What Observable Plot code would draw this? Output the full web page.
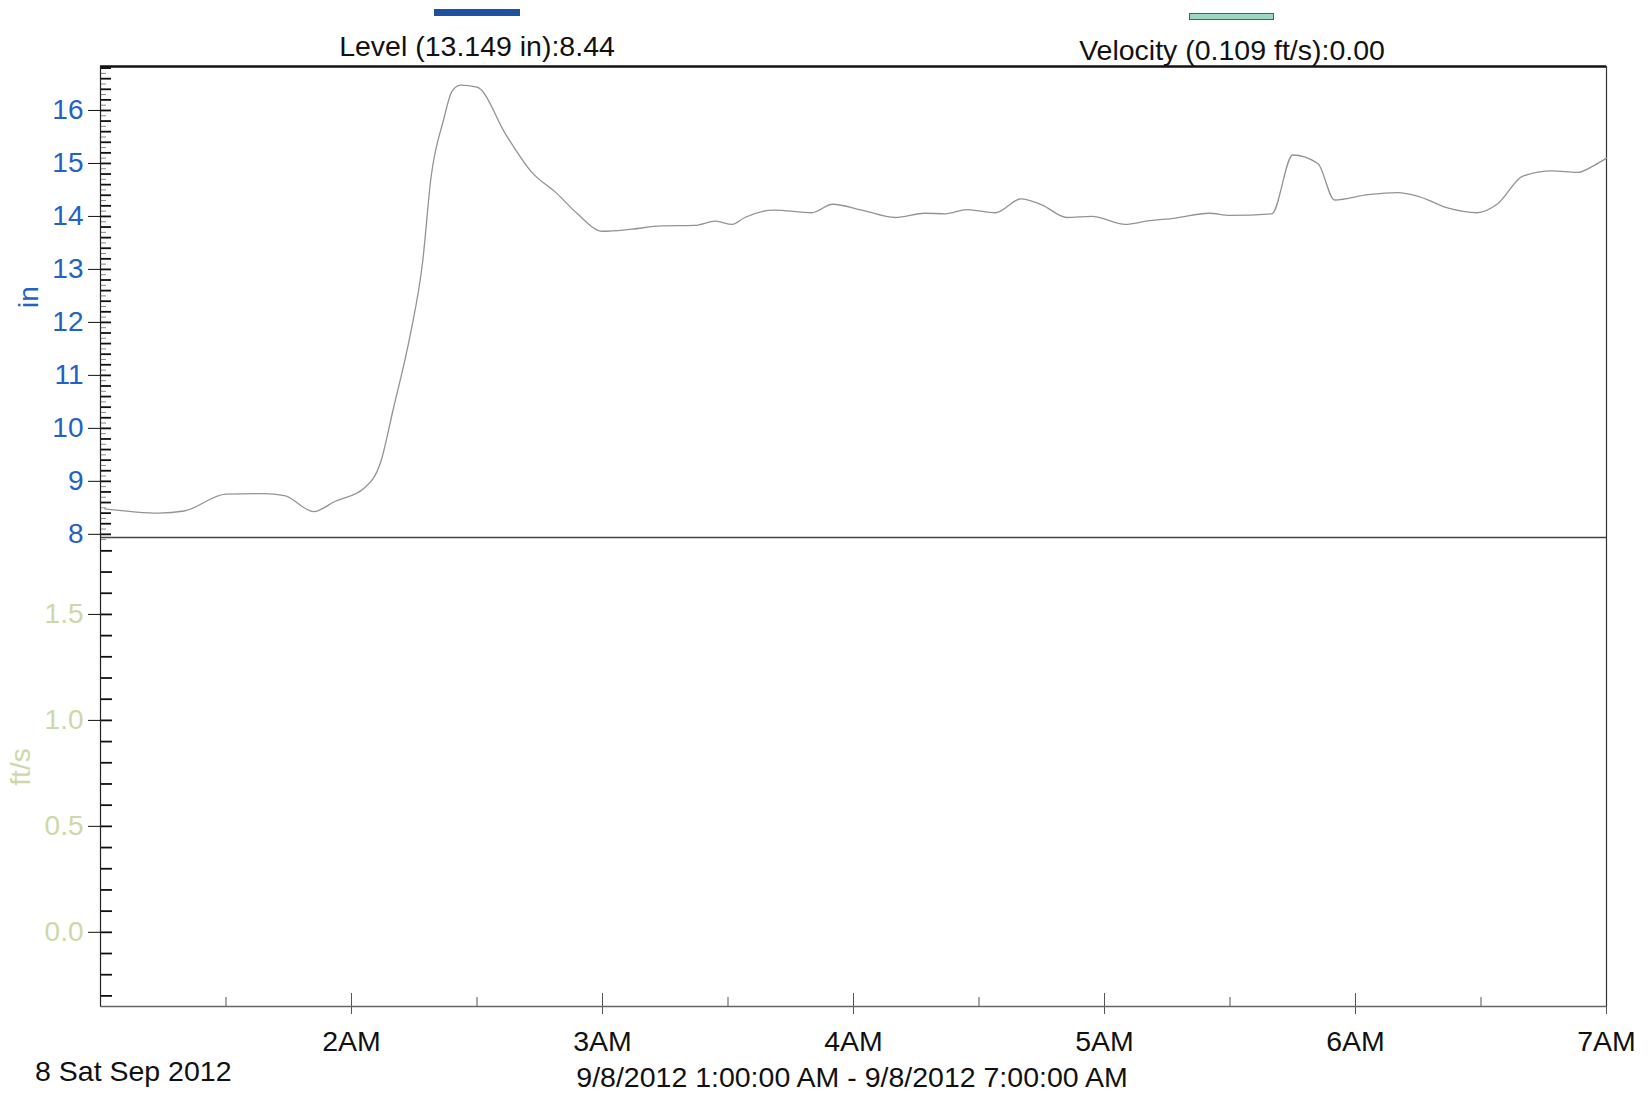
<!DOCTYPE html>
<html><head><meta charset="utf-8">
<script src="https://cdn.jsdelivr.net/npm/d3@7"></script>
<script src="https://cdn.jsdelivr.net/npm/@observablehq/plot@0.6"></script>
<style>
body{margin:0;background:#fff;width:1648px;height:1093px;overflow:hidden;position:relative;font-family:"Liberation Sans",Arial,sans-serif;}
.abs{position:absolute;white-space:nowrap;line-height:1;}
</style></head><body>
<div id="top" class="abs" style="left:0;top:0"></div>
<div id="bottom" class="abs" style="left:0;top:537px"></div>
<div id="overlay"></div>
<script>
// ---- data ----
const levelTimes = ["01:01","01:14","01:20","01:30","01:39","01:44","01:51","01:56","02:03","02:07","02:10","02:14","02:17","02:19","02:22","02:24","02:26","02:30","02:37","02:43","02:49","02:54","03:00","03:07","03:14","03:22","03:27","03:31","03:34","03:41","03:50","03:55","04:02","04:10","04:17","04:22","04:27","04:34","04:40","04:45","04:51","04:57","05:05","05:10","05:17","05:25","05:30","05:40","05:45","05:51","05:55","06:03","06:10","06:15","06:22","06:29","06:34","06:40","06:47","06:53","06:57","07:00"];
const levelValues = [8.48,8.40,8.44,8.76,8.77,8.73,8.43,8.62,8.87,9.37,10.37,11.75,13.14,14.73,15.82,16.36,16.48,16.44,15.53,14.84,14.44,14.05,13.72,13.76,13.82,13.83,13.91,13.85,13.98,14.12,14.07,14.23,14.12,13.98,14.06,14.05,14.13,14.07,14.33,14.22,13.98,14.00,13.85,13.91,13.97,14.06,14.02,14.05,15.16,15.00,14.31,14.41,14.45,14.38,14.16,14.07,14.24,14.76,14.86,14.83,14.96,15.10];
const levelMajorTicks = [8,9,10,11,12,13,14,15,16];
const velocityMajorTicks = [0.0,0.5,1.0,1.5];
const hourTickLabels = ["2AM","3AM","4AM","5AM","6AM","7AM"];
const hourTickHours = [2,3,4,5,6,7];
const legendLabels = ["Level (13.149 in):8.44","Velocity (0.109 ft/s):0.00"];
const levelAxisLabel = "in";
const velocityAxisLabel = "ft/s";
const dateLabel = "8 Sat Sep 2012";
const rangeLabel = "9/8/2012 1:00:00 AM - 9/8/2012 7:00:00 AM";

// ---- derived ----
const levelData = levelTimes.map((t,i)=>({time:new Date(`2012-09-08T${t}:00`), value:levelValues[i]}));
const xDomain = [new Date(2012,8,8,1), new Date(2012,8,8,7)];
const levelDomain = [7.94, 16.83];
const velDomain = [-0.35, 1.863];
const W = 1648, mL = 100, mR = 42;
const plotW = W - mL - mR;
const levelMinor = d3.range(80, 169, 2).map(v=>v/10);
const levelFine = d3.range(79, 169, 2).map(v=>v/10);
const velMinor = d3.range(-3, 19, 1).map(v=>v/10);
const hourTicks = hourTickHours.map(h=>new Date(2012,8,8,h));
const halfHours = hourTickHours.map(h=>new Date(2012,8,8,h-1,30));
const font = "'Liberation Sans', Arial, sans-serif";

const topPlot = Plot.plot({
  width: W, height: 537,
  marginLeft: mL, marginRight: mR, marginTop: 66, marginBottom: 0,
  style: {fontFamily: font, fontSize: "28px", background: "transparent", overflow: "visible"},
  x: {type: "time", domain: xDomain, axis: null},
  y: {domain: levelDomain},
  marks: [
    Plot.tickY(levelFine, {y: d=>d, insetRight: plotW - 6, stroke: "#888", strokeWidth: 1}),
    Plot.tickY(levelMinor, {y: d=>d, insetRight: plotW - 11, stroke: "#111", strokeWidth: 1.8}),
    Plot.axisY({ticks: levelMajorTicks, tickSize: 12, tickPadding: 5, stroke: "#111", fill: "#2262c4", fontSize: 28, label: null, tickFormat: d=>String(d)}),
    Plot.ruleY([levelDomain[0]], {stroke: "#444", strokeWidth: 1.3}),
    Plot.ruleY([levelDomain[1]], {stroke: "#111", strokeWidth: 2.4}),
    Plot.ruleX([xDomain[0]], {stroke: "#222", strokeWidth: 1.2}),
    Plot.ruleX([xDomain[1]], {stroke: "#333", strokeWidth: 1.2}),
    Plot.lineY(levelData, {x: "time", y: "value", stroke: "#939393", strokeWidth: 1.3, curve: "monotone-x"})
  ]
});
document.getElementById("top").appendChild(topPlot);

const frameH = 469;
const bottomPlot = Plot.plot({
  width: W, height: 556,
  marginLeft: mL, marginRight: mR, marginTop: 0, marginBottom: 87,
  style: {fontFamily: font, fontSize: "28px", background: "transparent", overflow: "visible"},
  x: {type: "time", domain: xDomain},
  y: {domain: velDomain},
  marks: [
    Plot.tickY(velMinor, {y: d=>d, insetRight: plotW - 12, stroke: "#111", strokeWidth: 1.8}),
    Plot.axisY({ticks: velocityMajorTicks, tickSize: 12, tickPadding: 5, stroke: "#111", fill: "#cdd8a6", fontSize: 28, label: null, tickFormat: d3.format(".1f")}),
    Plot.tickX(halfHours, {x: d=>d, insetTop: frameH - 9, stroke: "#555"}),
    Plot.tickX(hourTicks, {x: d=>d, insetTop: frameH - 13, stroke: "#555"}),
    Plot.axisX({ticks: hourTicks, tickSize: 8, tickPadding: 16, stroke: "#555", fill: "#111", fontSize: 28.5, label: null, tickFormat: (d,i)=>hourTickLabels[hourTicks.findIndex(t=>+t===+d)]}),
    Plot.ruleY([velDomain[0]], {stroke: "#666", strokeWidth: 1.3}),
    Plot.ruleX([xDomain[0]], {stroke: "#222", strokeWidth: 1.2}),
    Plot.ruleX([xDomain[1]], {stroke: "#333", strokeWidth: 1.2})
  ]
});
document.getElementById("bottom").appendChild(bottomPlot);

// ---- legend, axis titles, captions ----
const ov = document.getElementById("overlay");
function add(html){ ov.insertAdjacentHTML("beforeend", html); }
add(`<div class="abs" style="left:434px;top:9px;width:86px;height:7px;background:#1f4f9f"></div>`);
add(`<div class="abs" style="left:477px;top:32px;transform:translateX(-50%);font-size:28.5px;color:#111">${legendLabels[0]}</div>`);
add(`<div class="abs" style="left:1189px;top:13px;width:83px;height:5px;background:#9cd8c0;border:1.5px solid #3d6b5a"></div>`);
add(`<div class="abs" style="left:1232px;top:36px;transform:translateX(-50%);font-size:28.5px;color:#111">${legendLabels[1]}</div>`);
add(`<div class="abs" style="left:29px;top:297px;transform:translate(-50%,-50%) rotate(-90deg);font-size:28px;color:#2262c4">${levelAxisLabel}</div>`);
add(`<div class="abs" style="left:21px;top:767px;transform:translate(-50%,-50%) rotate(-90deg);font-size:28px;color:#cdd8a6">${velocityAxisLabel}</div>`);
add(`<div class="abs" style="left:35px;top:1057px;font-size:28.5px;color:#111">${dateLabel}</div>`);
add(`<div class="abs" style="left:852px;top:1063px;transform:translateX(-50%);font-size:28.5px;color:#111">${rangeLabel}</div>`);
</script>
</body></html>
